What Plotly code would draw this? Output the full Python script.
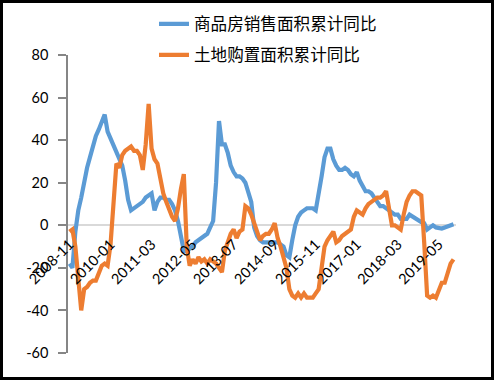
import pandas as pd
import plotly.graph_objects as go

# Monthly categories 2008-11 .. 2019-10
months = [d.strftime("%Y-%m") for d in pd.date_range("2008-11-01", periods=132, freq="MS")]

sales_area_yoy = [
    -18, -20, -3, 7, 13, 21, 27, 32, 37, 42,
    45, 48, 52, 44, 41, 38, 35, 31, 28, 21,
    12, 7, 8, 9, 10, 11, 13, 14, 15, 7,
    11, 13, 13, 12, 12, 10, 7, 2, -6, -12,
    -12, -11, -10, -8, -7, -6, -5, -4, -1, 2,
    20, 49, 38, 38, 34, 28, 25, 23, 23, 22,
    20, 16, 11, -1, -5, -7, -8, -8, -8, -8,
    -8, -8, -9, -10, -14, -15, -7, 0, 4, 6,
    7, 8, 8, 8, 7, 14, 23, 32, 36, 36,
    31, 28, 26, 26, 27, 26, 24, 23, 25, 21,
    18, 16, 16, 15, 13, 11, 9, 9, 8, 7,
    6, 5, 5, 3, 3, 3, 5, 4, 3, 2,
    1.5, 1, -2, -1, 0, -1, -1.5, -1.5, -1, -0.5,
    0, 0.5,
]

land_area_yoy = [
    -3, -2, -10, -28, -40, -30, -29, -27, -26, -26,
    -23, -19, -18, -19, -9, 12, 29, 27, 33, 35,
    36, 37, 35, 35, 33, 26, 38, 57, 36, 31,
    29, 21, 15, 11, 7, 4, 2, 8, 17, 24,
    -10, -19, -16, -18, -15, -17, -16, -18, -16, -17,
    -18, -20, -22, -12, -8, -4, -2, -6, -3, -2,
    9, 8, 5, 1, -4, -7, -5, -4, -4, -2,
    1, -6, -10, -15, -20, -30, -33, -34, -32, -34,
    -32, -34, -34, -34, -32, -30, -20, -10, -7, -5,
    -3, -8, -7, -5, -4, -3, -2, 4, 7, 6,
    5, 8, 10, 11, 12, 13, 13, 14, 16, 9,
    0, 0, -1, -2, 5, 11, 14, 16, 16, 15,
    14, -8, -33, -34, -33, -34, -30, -27, -27, -23,
    -18, -16,
]

series_names = ["商品房销售面积累计同比", "土地购置面积累计同比"]
tick_labels = months[::14]
y_ticks = [-60, -40, -20, 0, 20, 40, 60, 80]
y_tick_text = ["-60", "-40", "-20", "0", "20", "40", "60", "80"]

W, H = 494, 380
ML, MR, MT, MB = 68, 38, 55, 27
pw, ph = W - ML - MR, H - MT - MB

fig = go.Figure()
fig.add_trace(go.Scatter(x=months, y=sales_area_yoy, mode="lines", name=series_names[0],
                         line=dict(color="#5B9BD5", width=4.2), legend="legend"))
fig.add_trace(go.Scatter(x=months, y=land_area_yoy, mode="lines", name=series_names[1],
                         line=dict(color="#ED7D31", width=4.2), legend="legend2"))

cjk = "Noto Sans CJK SC"
num_font = dict(family="Lato, Carlito, sans-serif", size=14.5, color="#000000")

def py(pixel_y):
    return (H - MB - pixel_y) / ph

def px(pixel_x):
    return (pixel_x - ML) / pw

fig.update_layout(
    width=W, height=H,
    margin=dict(l=ML, r=MR, t=MT, b=MB, pad=0, autoexpand=False),
    paper_bgcolor="white", plot_bgcolor="white",
    xaxis=dict(type="category", range=[-0.51, 131.85], tickmode="array",
               tickvals=tick_labels, ticktext=tick_labels, tickangle=-45,
               tickfont=num_font, showgrid=False, zeroline=False,
               showline=False, automargin=False,
               anchor="free", position=60 / 140, ticks="", layer="above traces",
               ticklabelstandoff=7),
    yaxis=dict(range=[-60, 80], tickmode="array", tickvals=y_ticks, ticktext=y_tick_text,
               tickfont=num_font, showgrid=False, showline=True, automargin=False,
               zeroline=True, zerolinecolor="#d9d9d9", zerolinewidth=1.5,
               linecolor="#868686", linewidth=1.5, ticks="outside",
               ticklen=8, tickcolor="#868686", tickwidth=1.5, ticklabelstandoff=7),
    legend=dict(x=px(154), y=py(24), xanchor="left", yanchor="middle",
                font=dict(family=cjk, size=16.6, color="#000000"),
                bgcolor="rgba(0,0,0,0)"),
    legend2=dict(x=px(154), y=py(55), xanchor="left", yanchor="middle",
                 font=dict(family=cjk, size=16.6, color="#000000"),
                 bgcolor="rgba(0,0,0,0)"),
    showlegend=True,
)

fig.add_shape(type="rect", xref="paper", yref="paper",
              x0=px(1.5), x1=px(W - 1.5), y0=py(H - 1.5), y1=py(1.5),
              line=dict(color="black", width=3), fillcolor="rgba(0,0,0,0)", layer="above")

fig.write_html("out.html", config={"displayModeBar": False},
               post_script="document.body.style.margin='0';document.body.style.overflow='hidden';")
